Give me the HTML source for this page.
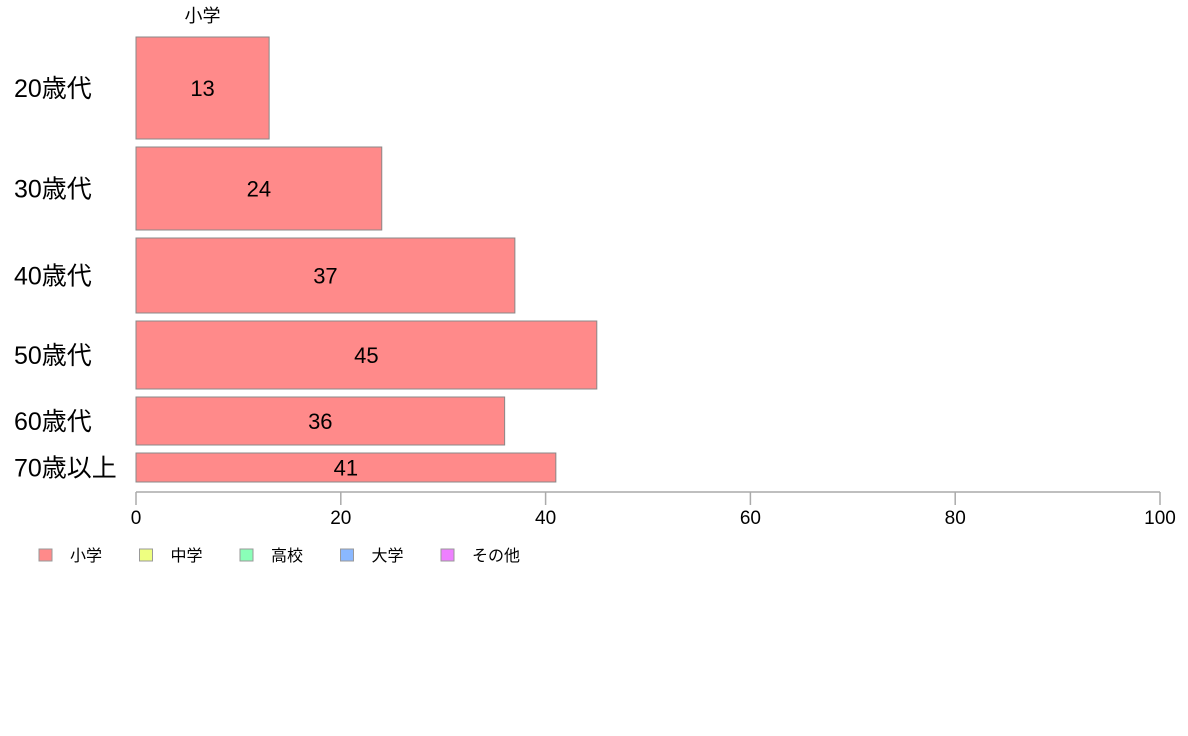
<!DOCTYPE html>
<html><head><meta charset="utf-8">
<style>
body{margin:0;background:#fff;}
svg{display:block;font-family:"Liberation Sans","Noto Sans CJK JP",sans-serif;}
</style></head>
<body>
<svg id="chart" width="1188" height="736"></svg>
<script>
const categories = ["20歳代","30歳代","40歳代","50歳代","60歳代","70歳以上"];
const values = [13,24,37,45,36,41];
const weights = [102,83,75,68,48,29];
const xTicks = [0,20,40,60,80,100];
const legendLabels = ["小学","中学","高校","大学","その他"];
const legendColors = ["#ff8a8a","#eeff80","#8affb8","#8ab8ff","#ee80ff"];

const NS = "http://www.w3.org/2000/svg";
const svg = document.getElementById("chart");
const x0 = 136, x1 = 1160, xMax = 100;
const yTop = 37, yBot = 482, gap = 8;
function xs(v){ return x0 + (x1 - x0) * v / xMax; }
function mk(tag, attrs, parent){
  const e = document.createElementNS(NS, tag);
  for (const k in attrs) e.setAttribute(k, attrs[k]);
  (parent || svg).appendChild(e);
  return e;
}
const totalW = weights.reduce((a,b)=>a+b,0);
const avail = (yBot - yTop) - gap * (weights.length - 1);
let y = yTop;
const title = mk("text",{x:xs(6.5),y:22,"font-size":18,"text-anchor":"middle"});


title.textContent = "小学";
categories.forEach((c,i)=>{
  const h = avail * weights[i] / totalW;
  const r = mk("rect",{x:x0,y:y,width:xs(values[i])-x0,height:h,fill:"#ff8a8a",stroke:"#888","stroke-width":1});
  
  
  const t = mk("text",{x:(x0+xs(values[i]))/2,y:y+h/2+8,"font-size":22,"text-anchor":"middle"});
  
  
  t.textContent = values[i];
  const l = mk("text",{x:14,y:y+h/2+9,"font-size":25});
  
  
  l.textContent = c;
  y += h + gap;
});
const ax = mk("line",{x1:x0,x2:x1,y1:492,y2:492,stroke:"#aaa","stroke-width":1.5});


xTicks.forEach(v=>{
  const tk = mk("line",{x1:xs(v),x2:xs(v),y1:492,y2:505,stroke:"#aaa","stroke-width":1.5});
  
  
  const tl = mk("text",{x:xs(v),y:524,"font-size":19,"text-anchor":"middle"});
  
  
  tl.textContent = v;
});
legendLabels.forEach((lab,i)=>{
  const lx = 39 + i*100.5;
  const sq = mk("rect",{x:lx,y:549,width:13,height:12,fill:legendColors[i],stroke:"#999","stroke-width":1});
  
  
  const lt = mk("text",{x:lx+31,y:561,"font-size":16});
  
  
  lt.textContent = lab;
});
</script>
</body></html>
